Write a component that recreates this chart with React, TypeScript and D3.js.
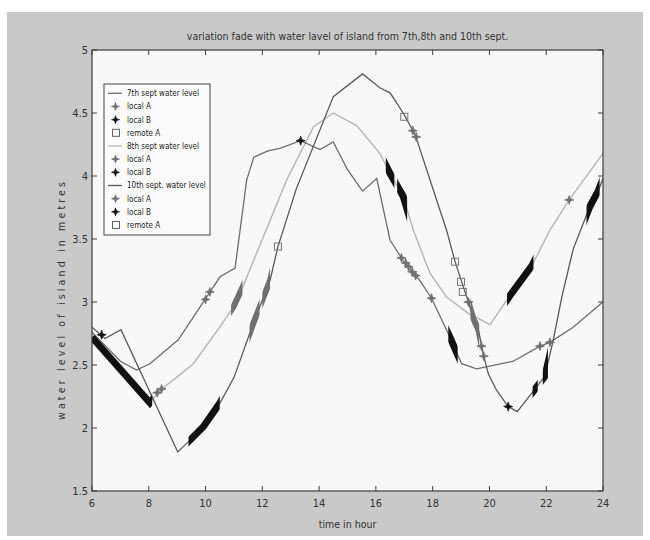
import React from "react";
import * as d3 from "d3";

// ---- data ----
const hoursA = [6, 7.0, 7.57, 8.04, 9.04, 10.04, 10.51, 11.04, 11.45, 11.7, 12.2, 12.62, 13.35, 14.03, 14.5, 15.0, 15.53, 16.03, 16.5, 16.96, 17.55, 17.96, 18.61, 18.9, 19.02, 19.55, 20.84, 21.78, 22.13, 22.95, 23.89, 24];
const levelA = [2.76, 2.53, 2.46, 2.51, 2.70, 3.04, 3.20, 3.27, 3.97, 4.15, 4.20, 4.22, 4.28, 4.21, 4.27, 4.05, 3.88, 3.98, 3.49, 3.33, 3.17, 3.03, 2.72, 2.57, 2.51, 2.47, 2.53, 2.65, 2.68, 2.80, 2.98, 3.0];

const hoursB = [6, 8.04, 8.39, 8.86, 9.57, 10.5, 10.98, 11.33, 12.86, 13.8, 14.5, 15.32, 16.14, 16.5, 16.96, 17.32, 17.9, 18.49, 19.26, 20.02, 20.72, 21.5, 22.13, 22.81, 24];
const levelB = [2.72, 2.20, 2.30, 2.38, 2.51, 2.80, 2.96, 3.13, 3.97, 4.39, 4.50, 4.40, 4.18, 4.02, 3.84, 3.57, 3.23, 3.04, 2.91, 2.82, 3.05, 3.29, 3.57, 3.81, 4.18];

const hoursC = [6, 6.46, 7.02, 9.02, 9.39, 9.92, 10.51, 11.0, 11.68, 12.27, 12.55, 13.2, 14.5, 15.53, 16.14, 16.5, 16.96, 17.38, 18.49, 18.79, 19.08, 19.26, 19.43, 19.61, 19.78, 19.96, 20.25, 20.66, 20.98, 21.54, 21.95, 22.25, 22.55, 22.95, 23.54, 23.83, 24];
const levelC = [2.80, 2.71, 2.78, 1.81, 1.89, 2.01, 2.20, 2.40, 2.83, 3.17, 3.44, 3.90, 4.63, 4.81, 4.70, 4.66, 4.50, 4.33, 3.57, 3.32, 3.12, 3.00, 2.87, 2.78, 2.59, 2.43, 2.30, 2.17, 2.13, 2.29, 2.41, 2.70, 3.04, 3.42, 3.76, 3.88, 3.98];

// sparse markers [hour, level]
const localA_A = [[10.0, 3.02], [10.15, 3.08], [16.9, 3.35], [17.05, 3.31], [17.15, 3.28], [17.28, 3.24], [17.4, 3.21], [17.96, 3.03], [21.78, 2.65], [22.13, 2.68]];
const localB_A = [[13.35, 4.28]];
const localA_B = [[8.3, 2.28], [8.45, 2.31], [22.81, 3.81]];
const localA_C = [[17.3, 4.36], [17.42, 4.31], [19.26, 3.0], [19.72, 2.65], [19.8, 2.57]];
const localB_C = [[6.34, 2.74], [20.66, 2.17]];
const remoteA_C = [[12.55, 3.44], [17.0, 4.47], [18.79, 3.32], [19.0, 3.16], [19.06, 3.08]];

// dense marker runs [fromHour, toHour]
const denseB_A = [[18.55, 18.88]];
const denseB_B = [[6.0, 8.12], [16.35, 16.65], [16.75, 17.1], [20.62, 21.55]];
const denseA_B = [[10.9, 11.3]];
const denseB_C = [[9.4, 10.5], [21.52, 21.7], [21.88, 22.06], [23.42, 23.88]];
const denseA_C = [[11.55, 11.9], [12.0, 12.27], [19.33, 19.64]];

const xTicks = [6, 8, 10, 12, 14, 16, 18, 20, 22, 24];
const yTicks = [1.5, 2, 2.5, 3, 3.5, 4, 4.5, 5];

const legendLabels = [
  "7th sept water level", "local A", "local B", "remote A",
  "8th sept water level", "local A", "local B",
  "10th sept. water level", "local A", "local B", "remote A",
];
const legendKinds = ["lineA", "starA", "starB", "square", "lineB", "starA", "starB", "lineC", "starA", "starB", "square"];

// ---- styles ----
const W = 650, H = 540;
const L = 92, R = 603, T = 50, B = 491;
const FONT = "'Liberation Sans Narrow', 'DejaVu Sans Condensed', 'Liberation Sans', sans-serif";
const colA = "#6c6c6c", colB = "#b4b4b4", colC = "#585858";
const grayMark = "#707070", blackMark = "#111";

function starPath(cx: number, cy: number, r = 4.5, ri = 1.6) {
  const p = d3.path();
  const pts: [number, number][] = [];
  for (let i = 0; i < 8; i++) {
    const a = (Math.PI / 4) * i - Math.PI / 2;
    const rr = i % 2 === 0 ? r : ri;
    pts.push([cx + rr * Math.cos(a), cy + rr * Math.sin(a)]);
  }
  p.moveTo(pts[0][0], pts[0][1]);
  pts.slice(1).forEach((q) => p.lineTo(q[0], q[1]));
  p.closePath();
  return p.toString();
}

export default function App() {
  const x = d3.scaleLinear().domain([6, 24]).range([L, R]);
  const y = d3.scaleLinear().domain([1.5, 5]).range([B, T]);
  const line = d3.line<number[]>().x((d) => x(d[0])).y((d) => y(d[1]));
  const sA = hoursA.map((h, i) => [h, levelA[i]]);
  const sB = hoursB.map((h, i) => [h, levelB[i]]);
  const sC = hoursC.map((h, i) => [h, levelC[i]]);

  const dense: { id: string; d: string; range: number[]; color: string; w: number }[] = [];
  denseA_B.forEach((r, i) => dense.push({ id: `dab${i}`, d: line(sB)!, range: r, color: grayMark, w: 6 }));
  denseA_C.forEach((r, i) => dense.push({ id: `dac${i}`, d: line(sC)!, range: r, color: grayMark, w: 6 }));
  denseB_A.forEach((r, i) => dense.push({ id: `dba${i}`, d: line(sA)!, range: r, color: blackMark, w: 7 }));
  denseB_B.forEach((r, i) => dense.push({ id: `dbb${i}`, d: line(sB)!, range: r, color: blackMark, w: 7 }));
  denseB_C.forEach((r, i) => dense.push({ id: `dbc${i}`, d: line(sC)!, range: r, color: blackMark, w: 7 }));

  const grayStars = [...localA_A, ...localA_B, ...localA_C];
  const blackStars = [...localB_A, ...localB_C];

  const legX = 104, legY = 84, legW = 106, legH = 151;
  const rowY = (i: number) => 93.3 + i * 13.17;

  return (
    <svg width={W} height={H} style={{ position: "absolute", left: 0, top: 0 }} fontFamily={FONT}>
      <rect x={0} y={0} width={W} height={H} fill="#ffffff" />
      <rect x={7} y={12} width={636} height={524} fill="#c9c9c9" />
      <rect x={L} y={T} width={R - L} height={B - T} fill="#f8f8f8" />
      <defs>
        <clipPath id="plotclip">
          <rect x={L} y={T} width={R - L} height={B - T} />
        </clipPath>
        {dense.map((s) => (
          <clipPath id={s.id} key={s.id}>
            <rect x={x(s.range[0])} y={T} width={x(s.range[1]) - x(s.range[0])} height={B - T} />
          </clipPath>
        ))}
      </defs>

      <text x={(L + R) / 2} y={40} textAnchor="middle" fontSize={10.5} fill="#333">
        variation fade with water lavel of island from 7th,8th and 10th sept.
      </text>

      <g clipPath="url(#plotclip)">
        <path d={line(sB)!} fill="none" stroke={colB} strokeWidth={1.4} />
        <path d={line(sA)!} fill="none" stroke={colA} strokeWidth={1.3} />
        <path d={line(sC)!} fill="none" stroke={colC} strokeWidth={1.3} />
        {dense.map((s) => (
          <g key={s.id} clipPath={`url(#${s.id})`}>
            <path d={s.d} fill="none" stroke={s.color} strokeWidth={s.w} />
          </g>
        ))}
        {grayStars.map((p, i) => (
          <path key={`ga${i}`} d={starPath(x(p[0]), y(p[1]))} fill={grayMark} stroke={grayMark} strokeWidth={0.8} />
        ))}
        {blackStars.map((p, i) => (
          <path key={`bb${i}`} d={starPath(x(p[0]), y(p[1]))} fill={blackMark} stroke={blackMark} strokeWidth={0.8} />
        ))}
        {remoteA_C.map((p, i) => (
          <rect key={`sq${i}`} x={x(p[0]) - 3.5} y={y(p[1]) - 3.5} width={7} height={7} fill="none" stroke="#777" strokeWidth={1} />
        ))}
      </g>

      {/* frame */}
      <rect x={L} y={T} width={R - L} height={B - T} fill="none" stroke="#3c3c3c" strokeWidth={1.2} />
      {xTicks.map((t) => (
        <g key={`xt${t}`}>
          <line x1={x(t)} x2={x(t)} y1={B} y2={B - 5} stroke="#3c3c3c" />
          <line x1={x(t)} x2={x(t)} y1={T} y2={T + 5} stroke="#3c3c3c" />
          <text x={x(t)} y={507} textAnchor="middle" fontSize={11} fill="#333">{t}</text>
        </g>
      ))}
      {yTicks.map((t) => (
        <g key={`yt${t}`}>
          <line x1={L} x2={L + 5} y1={y(t)} y2={y(t)} stroke="#3c3c3c" />
          <line x1={R} x2={R - 5} y1={y(t)} y2={y(t)} stroke="#3c3c3c" />
          <text x={88} y={y(t) + 4} textAnchor="end" fontSize={11} fill="#333">{t}</text>
        </g>
      ))}
      <text x={(L + R) / 2} y={528} textAnchor="middle" fontSize={10.5} fill="#333">time in hour</text>
      <text transform={`translate(65,301) rotate(-90)`} textAnchor="middle" fontSize={10.5} fill="#333"
        textLength={238} lengthAdjust="spacing">water level of island in metres</text>

      {/* legend */}
      <rect x={legX} y={legY} width={legW} height={legH} fill="#fbfbfb" stroke="#444" strokeWidth={1} />
      {legendLabels.map((lab, i) => {
        const k = legendKinds[i];
        const cy = rowY(i);
        let sym: React.ReactNode = null;
        if (k === "lineA" || k === "lineB" || k === "lineC") {
          const c = k === "lineA" ? colA : k === "lineB" ? colB : colC;
          sym = <line x1={108} x2={122} y1={cy} y2={cy} stroke={c} strokeWidth={1.3} />;
        } else if (k === "starA") {
          sym = <path d={starPath(115.5, cy, 4, 1.5)} fill={grayMark} stroke={grayMark} strokeWidth={0.6} />;
        } else if (k === "starB") {
          sym = <path d={starPath(115.5, cy, 4, 1.5)} fill={blackMark} stroke={blackMark} strokeWidth={0.6} />;
        } else {
          sym = <rect x={112.5} y={cy - 3.5} width={7} height={7} fill="none" stroke="#666" strokeWidth={1} />;
        }
        return (
          <g key={`lg${i}`}>
            {sym}
            <text x={127} y={cy + 3} fontSize={8} fill="#222">{lab}</text>
          </g>
        );
      })}
    </svg>
  );
}
